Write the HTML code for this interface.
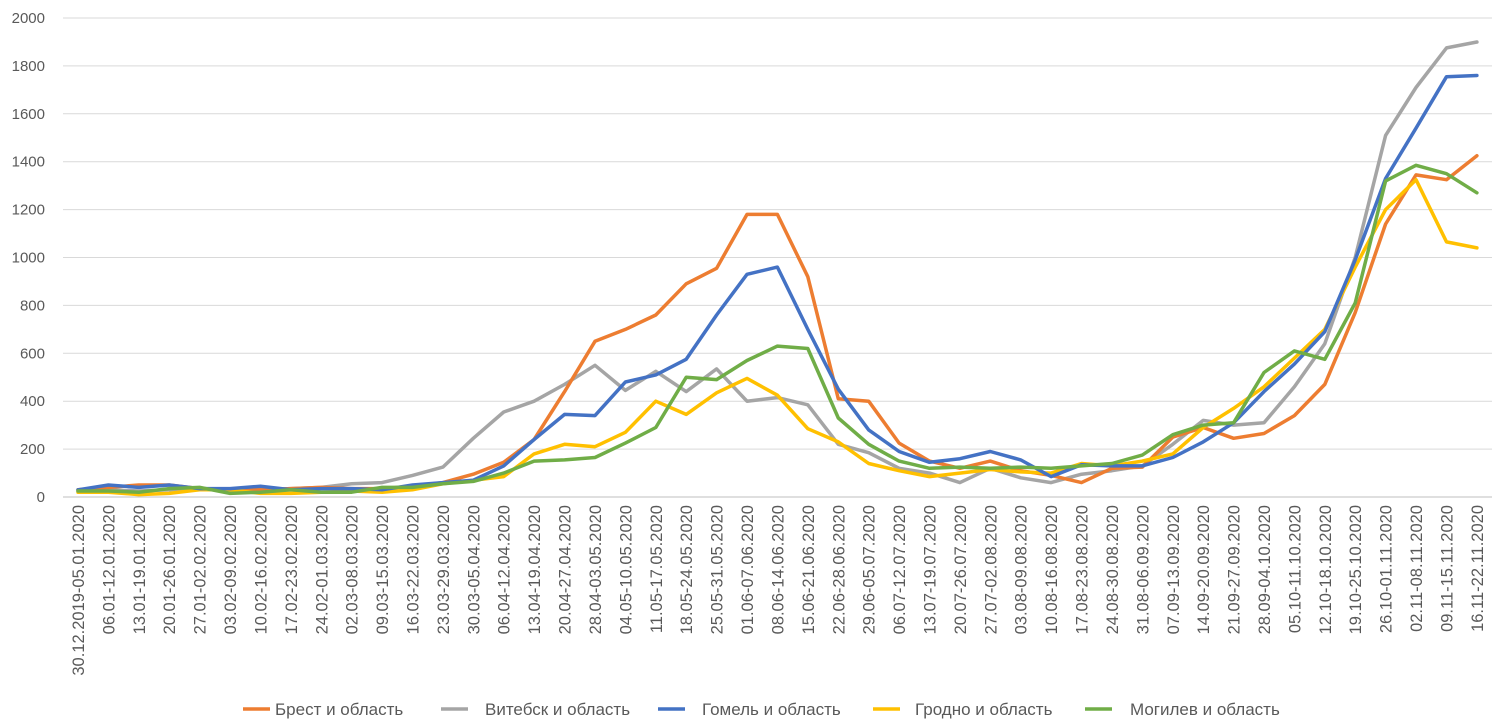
<!DOCTYPE html>
<html><head><meta charset="utf-8">
<style>
body{margin:0;background:#fff;}
svg{display:block;font-family:"Liberation Sans","Noto Sans CJK SC",sans-serif;}
</style></head>
<body>
<svg id="c" width="1504" height="725" xmlns="http://www.w3.org/2000/svg">
<line x1="243" y1="709" x2="270" y2="709" stroke="#ED7D31" stroke-width="3.5"/>
<text x="275" y="715" font-size="17" fill="#595959">Брест и область</text>
<line x1="441" y1="709" x2="468" y2="709" stroke="#A5A5A5" stroke-width="3.5"/>
<text x="485" y="715" font-size="17" fill="#595959">Витебск и область</text>
<line x1="658" y1="709" x2="685" y2="709" stroke="#4472C4" stroke-width="3.5"/>
<text x="702" y="715" font-size="17" fill="#595959">Гомель и область</text>
<line x1="873" y1="709" x2="900" y2="709" stroke="#FFC000" stroke-width="3.5"/>
<text x="915" y="715" font-size="17" fill="#595959">Гродно и область</text>
<line x1="1085" y1="709" x2="1112" y2="709" stroke="#70AD47" stroke-width="3.5"/>
<text x="1130" y="715" font-size="17" fill="#595959">Могилев и область</text>
</svg>
<script>
var NS="http://www.w3.org/2000/svg",s=document.getElementById("c");
function el(t,a,txt){var e=document.createElementNS(NS,t);for(var k in a)e.setAttribute(k,a[k]);if(txt)e.textContent=txt;s.appendChild(e);return e;}
function Y(v){return 497-v*0.2395;}
function X(i){return 78+i*30.41;}
for(var v=0;v<=2000;v+=200){
 el("line",{x1:63,x2:1492,y1:Y(v),y2:Y(v),stroke:v==0?"#BFBFBF":"#D9D9D9","stroke-width":1});
 el("text",{x:45,y:Y(v)+5,"text-anchor":"end","font-size":15,fill:"#595959"},String(v));
}
var labels=["30.12.2019-05.01.2020","06.01-12.01.2020","13.01-19.01.2020","20.01-26.01.2020","27.01-02.02.2020","03.02-09.02.2020","10.02-16.02.2020","17.02-23.02.2020","24.02-01.03.2020","02.03-08.03.2020","09.03-15.03.2020","16.03-22.03.2020","23.03-29.03.2020","30.03-05.04.2020","06.04-12.04.2020","13.04-19.04.2020","20.04-27.04.2020","28.04-03.05.2020","04.05-10.05.2020","11.05-17.05.2020","18.05-24.05.2020","25.05-31.05.2020","01.06-07.06.2020","08.06-14.06.2020","15.06-21.06.2020","22.06-28.06.2020","29.06-05.07.2020","06.07-12.07.2020","13.07-19.07.2020","20.07-26.07.2020","27.07-02.08.2020","03.08-09.08.2020","10.08-16.08.2020","17.08-23.08.2020","24.08-30.08.2020","31.08-06.09.2020","07.09-13.09.2020","14.09-20.09.2020","21.09-27.09.2020","28.09-04.10.2020","05.10-11.10.2020","12.10-18.10.2020","19.10-25.10.2020","26.10-01.11.2020","02.11-08.11.2020","09.11-15.11.2020","16.11-22.11.2020"];
labels.forEach(function(l,i){var x=X(i)+6,y=505;el("text",{x:x,y:y,"text-anchor":"end","font-size":16.5,fill:"#595959",transform:"rotate(-90 "+x+" "+y+")"},l);});
var D={
"#A5A5A5":[25,30,25,30,35,25,30,35,40,55,60,90,125,245,355,400,470,550,445,525,440,535,400,415,385,220,185,120,100,60,120,80,60,95,110,130,220,320,300,310,460,640,1000,1510,1710,1875,1900],
"#ED7D31":[30,40,50,50,35,30,30,35,40,35,35,45,60,95,145,240,440,650,700,760,890,955,1180,1180,920,410,400,225,150,120,150,110,90,60,120,125,250,290,245,265,340,470,770,1140,1345,1325,1425],
"#FFC000":[20,20,10,15,30,30,15,15,20,25,20,30,55,70,85,180,220,210,270,400,345,435,495,425,285,230,140,110,85,100,115,105,100,140,130,150,180,290,370,460,580,700,960,1200,1325,1065,1040],
"#4472C4":[30,50,40,50,35,35,45,30,35,35,30,50,60,70,130,240,345,340,480,510,575,760,930,960,700,450,280,190,145,160,190,155,85,135,130,130,165,230,310,440,555,690,990,1330,1540,1755,1760],
"#70AD47":[25,25,20,35,40,15,20,30,20,20,40,40,55,65,100,150,155,165,225,290,500,490,570,630,620,330,220,150,120,125,120,125,120,130,140,175,260,300,310,520,610,575,810,1320,1385,1350,1270]};
for(var c in D){el("polyline",{points:D[c].map(function(v,i){return X(i).toFixed(1)+","+Y(v).toFixed(1);}).join(" "),fill:"none",stroke:c,"stroke-width":3.5,"stroke-linejoin":"round","stroke-linecap":"round"});}
</script>
</body></html>
